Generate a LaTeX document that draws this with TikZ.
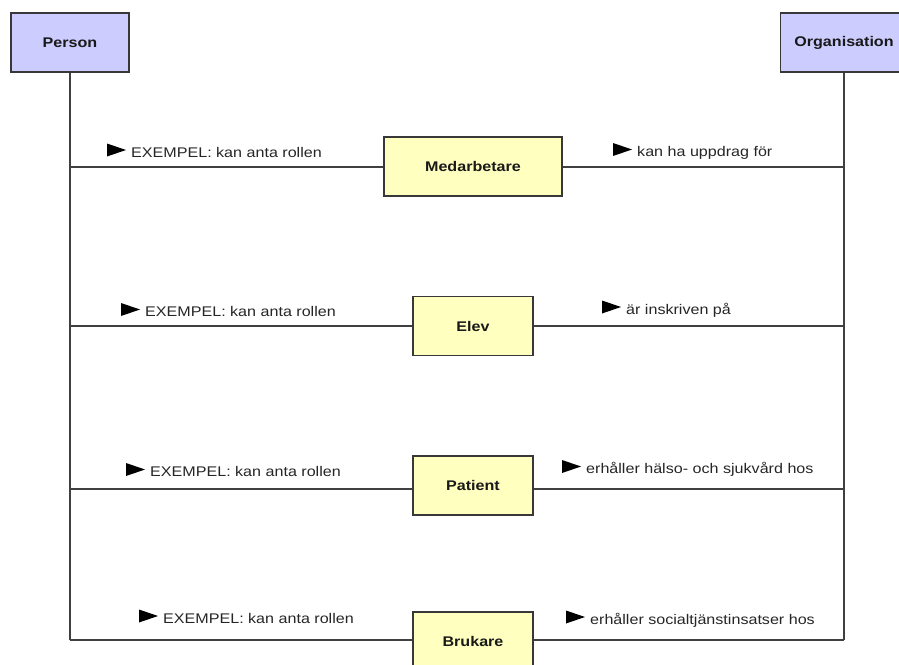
\documentclass[tikz,border=0pt]{standalone}
\usepackage{fontspec}
\setmainfont{Liberation Sans}[FakeStretch=1.15]
\usetikzlibrary{calc}

\definecolor{lineclr}{HTML}{404040}
\definecolor{borderclr}{HTML}{383838}
\definecolor{classblue}{HTML}{CCCCFF}
\definecolor{roleyellow}{HTML}{FFFFC0}
\definecolor{labelclr}{HTML}{262626}

\tikzset{
  entity/.style={draw=borderclr, line width=1.4pt, rectangle, inner sep=0pt,
    minimum height=59pt, font=\fontsize{14}{16}\selectfont\bfseries, text=black!90},
  classbox/.style={entity, fill=classblue, minimum width=118pt},
  rolebox/.style={entity, fill=roleyellow, minimum width=120pt},
  link/.style={draw=lineclr, line width=1.2pt},
  roletext/.style={inner sep=0pt, anchor=base west, text=labelclr,
    font=\fontsize{14}{16}\selectfont},
  dirmark/.style={fill=black}
}

% direction marker + association label; #1 = name, (#2,#3) = left edge x and centre y
\newcommand{\assoclabel}[4]{%
  \fill[dirmark] (#2,#3-6.5) -- (#2+19,#3) -- (#2,#3+6.5) -- cycle;
  \node[roletext] (#1) at (#2+24,#3+7) {#4};
}

\begin{document}
\begin{tikzpicture}[x=1pt,y=-1pt]
  \useasboundingbox (0,0) rectangle (899,664);
  \clip (0,0) rectangle (899,664);
  \fill[white] (0,0) rectangle (899,664);

  % lifelines
  \coordinate (lTop) at (70,72);
  \coordinate (rTop) at (844,72);
  \coordinate (lBot) at (70,640);
  \coordinate (rBot) at (844,640);

  % row junctions on the two verticals
  \coordinate (l1) at (70,167);  \coordinate (r1) at (844,167);
  \coordinate (l2) at (70,326);  \coordinate (r2) at (844,326);
  \coordinate (l3) at (70,489);  \coordinate (r3) at (844,489);

  % role boxes
  \node[rolebox, minimum width=178pt] (med) at (473,166.5) {Medarbetare};
  \node[rolebox] (elev) at (473,326) {Elev};
  \node[rolebox] (pat) at (473,485.5) {Patient};
  \node[rolebox] (bru) at (473,641.5) {Brukare};

  % connectors
  \draw[link] (lBot) -- (lTop);
  \draw[link] (rBot) -- (rTop);
  \draw[link] (l1) -- (l1 -| med.west);
  \draw[link] (med.east |- r1) -- (r1);
  \draw[link] (l2) -- (l2 -| elev.west);
  \draw[link] (elev.east |- r2) -- (r2);
  \draw[link] (l3) -- (l3 -| pat.west);
  \draw[link] (pat.east |- r3) -- (r3);
  \draw[link] (lBot) -- (lBot -| bru.west);
  \draw[link] (bru.east |- rBot) -- (rBot);

  % class boxes (the right one runs past the page edge)
  \node[classbox] (person) at (70,42.5) {Person};
  \node[classbox, minimum width=160pt, anchor=west] (org) at (780,42.5) {};
  \node[font=\fontsize{14}{16}\selectfont\bfseries, text=black!90, inner sep=0pt]
    (orgname) at (844,42.5) {Organisation};

  % association labels
  \assoclabel{a1}{107}{150}{EXEMPEL: kan anta rollen}
  \assoclabel{b1}{613}{149.5}{kan ha uppdrag för}
  \assoclabel{a2}{121}{309.5}{EXEMPEL: kan anta rollen}
  \assoclabel{b2}{602}{307}{är inskriven på}
  \assoclabel{a3}{126}{469.5}{EXEMPEL: kan anta rollen}
  \assoclabel{b3}{562}{466.5}{erhåller hälso- och sjukvård hos}
  \assoclabel{a4}{139}{616}{EXEMPEL: kan anta rollen}
  \assoclabel{b4}{566}{617}{erhåller socialtjänstinsatser hos}
\end{tikzpicture}
\end{document}
